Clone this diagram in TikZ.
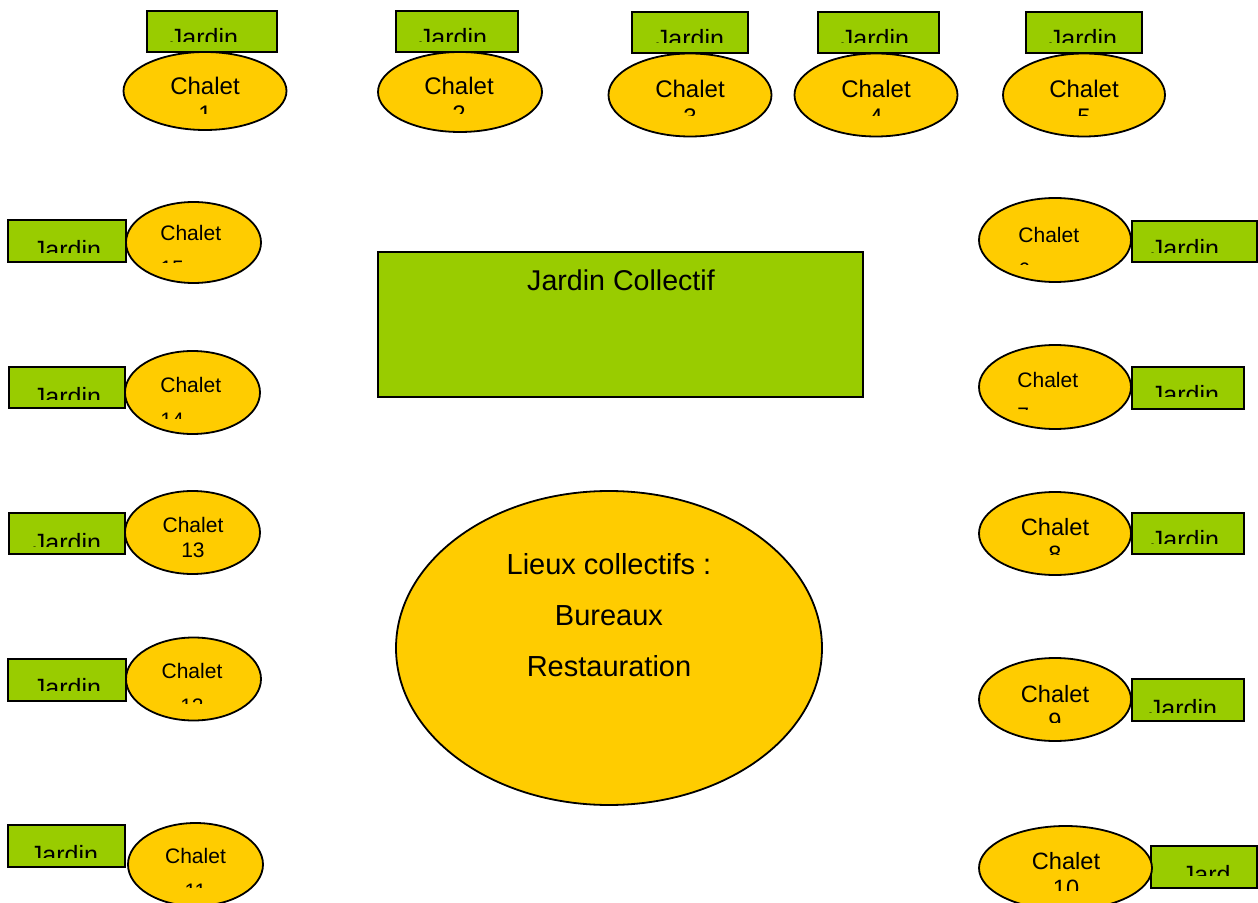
\documentclass[tikz,border=0pt]{standalone}
\usepackage{fontspec}
\setmainfont{Liberation Sans}
\usetikzlibrary{shapes.geometric}

\definecolor{jardingreen}{HTML}{99CC00}
\definecolor{chaletyellow}{HTML}{FFCC00}

\begin{document}
\begin{tikzpicture}[x=0.5pt, y=-0.5pt,
    jardin/.style={draw, fill=jardingreen, line width=0.9pt, inner sep=0pt},
    chalet/.style={ellipse, draw, fill=chaletyellow, line width=0.9pt, inner sep=0pt},
    wh/.style 2 args={minimum width=#1*0.5pt, minimum height=#2*0.5pt},
    lbl/.style={inner sep=0pt, anchor=north, align=center},
    lbll/.style={inner sep=0pt, anchor=north west, align=left},
    jtxt/.style={font=\fontsize{12.5}{15}\selectfont},
    bigtxt/.style={font=\fontsize{12}{14}\selectfont},
    midtxt/.style={font=\fontsize{11.8}{13.5}\selectfont},
    smalltxt/.style={font=\fontsize{10.5}{17.5}\selectfont},
    tighttxt/.style={font=\fontsize{10.5}{12.5}\selectfont}]

    \useasboundingbox (0,0) rectangle (1258,903);

    % top row
    \node[jardin, wh={130}{41}] (j1) at (212,31.5) {};
    \node[jardin, wh={122}{41}] (j2) at (457,31.5) {};
    \node[jardin, wh={116}{41}] (j3) at (690,32.5) {};
    \node[jardin, wh={121}{41}] (j4) at (878.5,32.5) {};
    \node[jardin, wh={116}{41}] (j5) at (1084,32.5) {};

    \node[chalet, wh={163}{78}] (c1) at (205,91) {};
    \node[chalet, wh={164}{80}] (c2) at (460,92) {};
    \node[chalet, wh={163}{83}] (c3) at (690,95) {};
    \node[chalet, wh={163}{83}] (c4) at (876,95) {};
    \node[chalet, wh={162}{83}] (c5) at (1084,95) {};

    % right column
    \node[jardin, wh={125}{41}] (j6) at (1194.5,241.5) {};
    \node[jardin, wh={112}{42}] (j7) at (1188,388) {};
    \node[jardin, wh={112}{41}] (j8) at (1188,533.5) {};
    \node[jardin, wh={112}{42}] (j9) at (1188,700) {};
    \node[jardin, wh={106}{42}] (j10) at (1204,867) {};

    \node[chalet, wh={152}{84}] (c6) at (1055,240) {};
    \node[chalet, wh={152}{84}] (c7) at (1055,387) {};
    \node[chalet, wh={152}{83}] (c8) at (1055,533.5) {};
    \node[chalet, wh={152}{83}] (c9) at (1055,699.5) {};
    \node[chalet, wh={173}{84}] (c10) at (1065.5,868) {};

    % left column
    \node[jardin, wh={118}{42}] (j15) at (67,241) {};
    \node[jardin, wh={116}{41}] (j14) at (67,387.5) {};
    \node[jardin, wh={116}{41}] (j13) at (67,533.5) {};
    \node[jardin, wh={118}{42}] (j12) at (67,680) {};
    \node[jardin, wh={117}{42}] (j11) at (66.5,846) {};

    \node[chalet, wh={135}{81}] (c15) at (193.5,242.5) {};
    \node[chalet, wh={135}{83}] (c14) at (192.5,392.5) {};
    \node[chalet, wh={135}{83}] (c13) at (192.5,532.5) {};
    \node[chalet, wh={135}{83}] (c12) at (193.5,679) {};
    \node[chalet, wh={135}{83}] (c11) at (195.5,864.5) {};

    % centre
    \node[jardin, wh={485}{145}] (jc) at (620.5,324.5) {};
    \node[chalet, wh={426}{314}] (lieux) at (609,648) {};

    % labels, cut off below like in the slide
    \begin{scope} \clip (0,0) rectangle (1258,42); \node[lbl, jtxt] (tj1) at (204,28) {Jardin}; \end{scope}
    \begin{scope} \clip (0,0) rectangle (1258,42); \node[lbl, jtxt] (tj2) at (453,28) {Jardin}; \end{scope}
    \begin{scope} \clip (0,0) rectangle (1258,43); \node[lbl, jtxt] (tj3) at (690,29) {Jardin}; \end{scope}
    \begin{scope} \clip (0,0) rectangle (1258,43); \node[lbl, jtxt] (tj4) at (875,29) {Jardin}; \end{scope}
    \begin{scope} \clip (0,0) rectangle (1258,43); \node[lbl, jtxt] (tj5) at (1083,29) {Jardin}; \end{scope}

    \begin{scope} \clip (0,0) rectangle (1258,114); \node[lbl, bigtxt] (tc1) at (205,77) {Chalet\\1}; \end{scope}
    \begin{scope} \clip (0,0) rectangle (1258,114); \node[lbl, bigtxt] (tc2) at (459,77) {Chalet\\2}; \end{scope}
    \begin{scope} \clip (0,0) rectangle (1258,116); \node[lbl, bigtxt] (tc3) at (690,80) {Chalet\\3}; \end{scope}
    \begin{scope} \clip (0,0) rectangle (1258,116); \node[lbl, bigtxt] (tc4) at (876,80) {Chalet\\4}; \end{scope}
    \begin{scope} \clip (0,0) rectangle (1258,116); \node[lbl, bigtxt] (tc5) at (1084,80) {Chalet\\5}; \end{scope}

    \begin{scope} \clip (0,0) rectangle (1258,253); \node[lbl, jtxt] (tj6) at (1185,239) {Jardin}; \end{scope}
    \begin{scope} \clip (0,0) rectangle (1258,397); \node[lbl, jtxt] (tj7) at (1185,385) {Jardin}; \end{scope}
    \begin{scope} \clip (0,0) rectangle (1258,543); \node[lbl, jtxt] (tj8) at (1185,530) {Jardin}; \end{scope}
    \begin{scope} \clip (0,0) rectangle (1258,712); \node[lbl, jtxt] (tj9) at (1183,699) {Jardin}; \end{scope}
    \begin{scope} \clip (0,0) rectangle (1230,875); \node[lbl, jtxt] (tj10) at (1216,865) {Jardin}; \end{scope}

    \begin{scope} \clip (0,0) rectangle (1258,265); \node[lbll, smalltxt] (tc6) at (1018,227) {Chalet\\6}; \end{scope}
    \begin{scope} \clip (0,0) rectangle (1258,410); \node[lbll, smalltxt] (tc7) at (1017,372) {Chalet\\7}; \end{scope}
    \begin{scope} \clip (0,0) rectangle (1258,554); \node[lbl, midtxt] (tc8) at (1055,518) {Chalet\\8}; \end{scope}
    \begin{scope} \clip (0,0) rectangle (1258,722); \node[lbl, midtxt] (tc9) at (1055,685) {Chalet\\9}; \end{scope}
    \begin{scope} \clip (0,0) rectangle (1258,890); \node[lbl, midtxt] (tc10) at (1066,852) {Chalet\\10}; \end{scope}

    \begin{scope} \clip (0,0) rectangle (1258,253); \node[lbl, jtxt] (tj15) at (67,240) {Jardin}; \end{scope}
    \begin{scope} \clip (0,0) rectangle (1258,400); \node[lbl, jtxt] (tj14) at (67,387) {Jardin}; \end{scope}
    \begin{scope} \clip (0,0) rectangle (1258,546); \node[lbl, jtxt] (tj13) at (67,533) {Jardin}; \end{scope}
    \begin{scope} \clip (0,0) rectangle (1258,690); \node[lbl, jtxt] (tj12) at (67,678) {Jardin}; \end{scope}
    \begin{scope} \clip (0,0) rectangle (1258,857); \node[lbl, jtxt] (tj11) at (64,845) {Jardin}; \end{scope}

    \begin{scope} \clip (0,0) rectangle (1258,263); \node[lbll, smalltxt] (tc15) at (160,225) {Chalet\\15}; \end{scope}
    \begin{scope} \clip (0,0) rectangle (1258,419); \node[lbll, smalltxt] (tc14) at (160,377) {Chalet\\14}; \end{scope}
    \node[lbl, tighttxt] (tc13) at (193,517) {Chalet\\13};
    \begin{scope} \clip (0,0) rectangle (1258,703); \node[lbl, smalltxt] (tc12) at (192,663) {Chalet\\12}; \end{scope}
    \begin{scope} \clip (0,0) rectangle (1258,887); \node[lbl, smalltxt] (tc11) at (195.5,848) {Chalet\\11}; \end{scope}

    \node[lbl, font=\fontsize{14.3}{17}\selectfont] (tjc) at (621,269) {Jardin Collectif};
    \node[lbl, font=\fontsize{14.5}{25.5}\selectfont] (tlieux) at (609,553) {Lieux collectifs :\\Bureaux\\Restauration};
\end{tikzpicture}
\end{document}
